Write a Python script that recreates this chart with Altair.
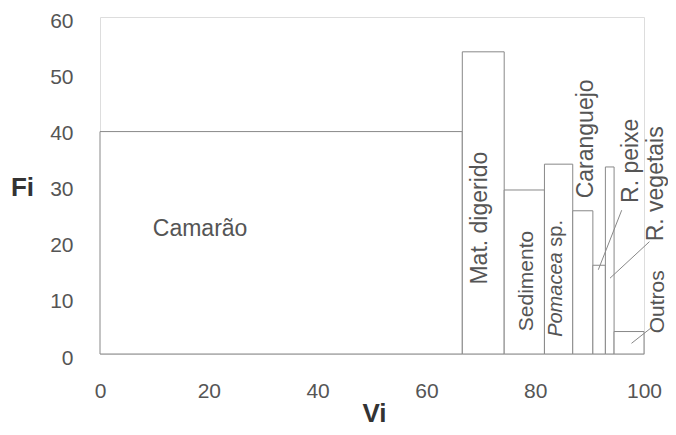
import altair as alt
import pandas as pd

# Costello diagram data
categories = ["Camarão", "Mat. digerido", "Sedimento", "Pomacea sp.",
              "Caranguejo", "R. peixe", "R. vegetais", "Outros"]
vi = [66.6, 7.7, 7.4, 5.2, 3.7, 2.3, 1.6, 5.5]
fi = [39.6, 53.8, 29.2, 33.8, 25.5, 15.8, 33.3, 4.0]

x_ticks = [0, 20, 40, 60, 80, 100]
y_ticks = [0, 10, 20, 30, 40, 50, 60]

# label anchor positions (data units)
lab_text = ["Mat. digerido", "Sedimento", "Caranguejo", "R. peixe", "R. vegetais", "Outros"]
lab_x = [71.1, 79.6, 90.6, 98.9, 103.5, 103.6]
lab_y = [24.2, 13.0, 38.3, 34.4, 30.3, 9.3]
lab_size = [23, 21, 23, 23, 23, 21]

camarao_x, camarao_y = [18.4], [22.3]
pom_x, pom_y = [85.0], [18.1]
sp_x, sp_y = [85.0], [19.1]

# pointer lines
ptr_x = [95.9, 101.0, 101.5]
ptr_y = [25.6, 20.0, 4.8]
ptr_x2 = [91.6, 93.75, 97.7]
ptr_y2 = [15.0, 13.5, 1.9]

x0, acc = [], 0.0
for v in vi:
    x0.append(acc)
    acc += v
x1 = [a + b for a, b in zip(x0, vi)]
bars = pd.DataFrame({"cat": categories, "x0": x0, "x1": x1, "fi": fi})

FONT = "Liberation Sans"
GRAY = "#888888"
TXT = "#555555"

xscale = alt.Scale(domain=[0, 100], nice=False, zero=False)
yscale = alt.Scale(domain=[0, 60], nice=False)

rects = alt.Chart(bars).mark_rect(fill="white", stroke=GRAY, strokeWidth=1).encode(
    x=alt.X("x0:Q", scale=xscale,
            axis=alt.Axis(values=x_ticks, title="Vi", grid=False, ticks=False, tickSize=0,
                          domain=False, labelFont=FONT, labelFontSize=21, labelColor=TXT,
                          labelPadding=26, titleFont=FONT, titleFontSize=26, titleFontWeight="bold",
                          titleColor="#333333", titleX=274, titleY=67, titleBaseline="alphabetic",
                          titleAlign="center", labelFlush=False)),
    x2="x1:Q",
    y=alt.Y("fi:Q", scale=yscale,
            axis=alt.Axis(values=y_ticks, title="Fi", grid=False, ticks=False, tickSize=0,
                          domain=False, labelFont=FONT, labelFontSize=21, labelColor=TXT,
                          labelPadding=27, labelOffset=4, titleFont=FONT, titleFontSize=26,
                          titleFontWeight="bold", titleColor="#333333", titleAngle=0,
                          titleX=-78, titleY=178, titleBaseline="alphabetic", titleAlign="center",
                          labelFlush=False)),
    y2=alt.datum(0),
)

labels = alt.Chart(pd.DataFrame({"t": lab_text, "x": lab_x, "y": lab_y, "s": lab_size})).mark_text(
    angle=270, align="center", baseline="alphabetic", font=FONT, color=TXT
).encode(
    x=alt.X("x:Q", scale=xscale), y=alt.Y("y:Q", scale=yscale), text="t:N",
    size=alt.Size("s:Q", scale=None, legend=None),
)

camarao = alt.Chart(pd.DataFrame({"t": ["Camarão"], "x": camarao_x, "y": camarao_y})).mark_text(
    align="center", baseline="middle", font=FONT, fontSize=23, color=TXT
).encode(x=alt.X("x:Q", scale=xscale), y=alt.Y("y:Q", scale=yscale), text="t:N")

pomacea = alt.Chart(pd.DataFrame({"t": ["Pomacea"], "x": pom_x, "y": pom_y})).mark_text(
    angle=270, align="right", baseline="alphabetic", font=FONT, fontSize=20,
    fontStyle="italic", color=TXT
).encode(x=alt.X("x:Q", scale=xscale), y=alt.Y("y:Q", scale=yscale), text="t:N")

sp = alt.Chart(pd.DataFrame({"t": ["sp."], "x": sp_x, "y": sp_y})).mark_text(
    angle=270, align="left", baseline="alphabetic", font=FONT, fontSize=20, color=TXT
).encode(x=alt.X("x:Q", scale=xscale), y=alt.Y("y:Q", scale=yscale), text="t:N")

pointers = alt.Chart(pd.DataFrame({"x": ptr_x, "y": ptr_y, "x2": ptr_x2, "y2": ptr_y2})).mark_rule(
    color=GRAY, strokeWidth=1
).encode(x=alt.X("x:Q", scale=xscale), y=alt.Y("y:Q", scale=yscale), x2="x2:Q", y2="y2:Q")

chart = alt.layer(rects, pointers, labels, camarao, pomacea, sp).properties(
    width=544, height=337,
    autosize=alt.AutoSizeParams(type="none"),
    padding={"left": 92, "top": 9, "right": 24, "bottom": 73},
).configure_view(stroke=GRAY, strokeWidth=1).configure(background="white")

chart.save("out.html", embed_options={"renderer": "svg", "actions": False})
